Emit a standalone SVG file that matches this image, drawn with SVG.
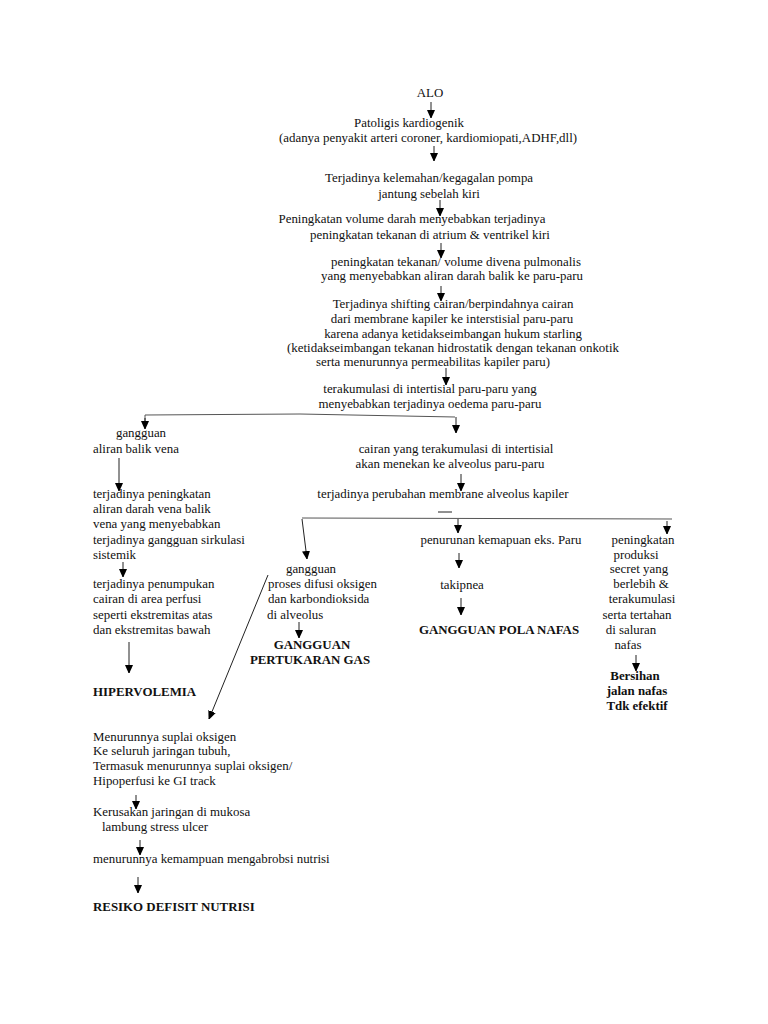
<svg xmlns="http://www.w3.org/2000/svg" width="768" height="1024" viewBox="0 0 768 1024">
<defs>
<marker id="a" markerWidth="8" markerHeight="9" refX="8" refY="4" orient="auto" markerUnits="userSpaceOnUse">
<path d="M0,0 L9,4 L0,8 Z" fill="#000"/>
</marker>
<style>
text{font-family:"Liberation Serif","Times New Roman",serif;font-size:12.9px;fill:#111}
.b{font-weight:bold}
.m{text-anchor:middle}
.c{stroke:#222;stroke-width:1;fill:none}
.ar{marker-end:url(#a)}
.g{stroke:#555}
</style>
</defs>
<rect width="768" height="1024" fill="#fff"/>
<g id="connectors">
<line class="c ar" x1="431" y1="102" x2="431" y2="118"/>
<line class="c ar" x1="434" y1="146" x2="434" y2="161"/>
<line class="c ar" x1="440" y1="200" x2="440" y2="216"/>
<line class="c ar" x1="441" y1="243" x2="441" y2="258"/>
<line class="c ar" x1="441" y1="286" x2="441" y2="301"/>
<line class="c ar" x1="446" y1="368" x2="446" y2="385"/>
<polyline class="c g" points="145,428 145,415 300,414 455,417"/>
<line class="c ar" x1="145" y1="418" x2="145" y2="429"/>
<line class="c ar" x1="456" y1="417" x2="456" y2="433"/>
<line class="c ar" x1="119" y1="458" x2="119" y2="491"/>
<line class="c ar" x1="461" y1="474" x2="461" y2="491"/>
<line class="c" x1="438" y1="512" x2="452" y2="512"/>
<line class="c g" x1="302" y1="518" x2="672" y2="519"/>
<line class="c ar" x1="302" y1="519" x2="307" y2="559"/>
<line class="c ar" x1="458" y1="519" x2="458" y2="533"/>
<line class="c ar" x1="667" y1="521" x2="667" y2="534"/>
<line class="c ar" x1="123" y1="562" x2="123" y2="577"/>
<line class="c ar" x1="129" y1="642" x2="129" y2="673"/>
<line class="c ar" x1="459" y1="553" x2="459" y2="568"/>
<line class="c ar" x1="461" y1="598" x2="461" y2="615"/>
<line class="c ar" x1="299" y1="622" x2="299" y2="638"/>
<line class="c ar" x1="636" y1="655" x2="636" y2="671"/>
<line class="c ar" x1="268" y1="575" x2="209" y2="719"/>
<line class="c ar" x1="136" y1="795" x2="136" y2="809"/>
<line class="c ar" x1="140" y1="840" x2="140" y2="855"/>
<line class="c ar" x1="138" y1="877" x2="138" y2="893"/>
</g>
<g id="n-alo"><text class="m" x="430" y="97">ALO</text></g>
<g id="n-patologis">
<text class="m" x="409" y="127">Patoligis kardiogenik</text>
<text class="m" x="428" y="142">(adanya penyakit arteri coroner, kardiomiopati,ADHF,dll)</text>
</g>
<g id="n-kelemahan">
<text class="m" x="429" y="182">Terjadinya kelemahan/kegagalan pompa</text>
<text class="m" x="429" y="198">jantung sebelah kiri</text>
</g>
<g id="n-volume">
<text class="m" x="412" y="223">Peningkatan volume darah menyebabkan terjadinya</text>
<text class="m" x="430" y="239">peningkatan tekanan di atrium &amp; ventrikel kiri</text>
</g>
<g id="n-pulmonalis">
<text class="m" x="456" y="266">peningkatan tekanan/ volume divena pulmonalis</text>
<text class="m" x="452" y="280">yang menyebabkan aliran darah balik ke paru-paru</text>
</g>
<g id="n-shifting">
<text class="m" x="453" y="308">Terjadinya shifting cairan/berpindahnya cairan</text>
<text class="m" x="452" y="323">dari membrane kapiler ke interstisial paru-paru</text>
<text class="m" x="453" y="338">karena adanya ketidakseimbangan hukum starling</text>
<text class="m" x="453" y="352">(ketidakseimbangan tekanan hidrostatik dengan tekanan onkotik</text>
<text class="m" x="433" y="366">serta menurunnya permeabilitas kapiler paru)</text>
</g>
<g id="n-oedema">
<text class="m" x="430" y="393">terakumulasi di intertisial paru-paru yang</text>
<text class="m" x="430" y="408">menyebabkan terjadinya oedema paru-paru</text>
</g>
<g id="n-aliranbalik">
<text class="m" x="141" y="437">gangguan</text>
<text class="m" x="136" y="453">aliran balik vena</text>
</g>
<g id="n-cairan">
<text class="m" x="456" y="453">cairan yang terakumulasi di intertisial</text>
<text class="m" x="450" y="468">akan menekan ke alveolus paru-paru</text>
</g>
<g id="n-membrane"><text class="m" x="443" y="498">terjadinya perubahan membrane alveolus kapiler</text></g>
<g id="n-sirkulasi">
<text x="93" y="498">terjadinya peningkatan</text>
<text x="93" y="513">aliran darah vena balik</text>
<text x="93" y="528">vena yang menyebabkan</text>
<text x="93" y="544">terjadinya gangguan sirkulasi</text>
<text x="93" y="559">sistemik</text>
</g>
<g id="n-penumpukan">
<text x="93" y="588">terjadinya penumpukan</text>
<text x="93" y="603">cairan di area perfusi</text>
<text x="93" y="619">seperti ekstremitas atas</text>
<text x="93" y="634">dan ekstremitas bawah</text>
</g>
<g id="n-hipervolemia"><text class="b" x="93" y="696">HIPERVOLEMIA</text></g>
<g id="n-difusi">
<text class="m" x="311" y="573">gangguan</text>
<text x="268" y="588">proses difusi oksigen</text>
<text x="268" y="603">dan karbondioksida</text>
<text x="267" y="619">di alveolus</text>
</g>
<g id="n-pertukaran">
<text class="b m" x="312" y="649">GANGGUAN</text>
<text class="b m" x="310" y="664">PERTUKARAN GAS</text>
</g>
<g id="n-ekspansi"><text class="m" x="501" y="544">penurunan kemapuan eks. Paru</text></g>
<g id="n-takipnea"><text class="m" x="462" y="589">takipnea</text></g>
<g id="n-pola"><text class="b m" x="499" y="634">GANGGUAN POLA NAFAS</text></g>
<g id="n-secret">
<text class="m" x="643" y="544">peningkatan</text>
<text class="m" x="636" y="559">produksi</text>
<text class="m" x="639" y="573">secret yang</text>
<text class="m" x="641" y="588">berlebih &amp;</text>
<text class="m" x="642" y="603">terakumulasi</text>
<text class="m" x="637" y="619">serta tertahan</text>
<text class="m" x="631" y="634">di saluran</text>
<text class="m" x="628" y="649">nafas</text>
</g>
<g id="n-bersihan">
<text class="b m" x="635" y="680">Bersihan</text>
<text class="b m" x="637" y="695">jalan nafas</text>
<text class="b m" x="637" y="710">Tdk efektif</text>
</g>
<g id="n-suplai">
<text x="93" y="741">Menurunnya suplai oksigen</text>
<text x="93" y="755">Ke seluruh jaringan tubuh,</text>
<text x="93" y="770">Termasuk menurunnya suplai oksigen/</text>
<text x="93" y="785">Hipoperfusi ke GI track</text>
</g>
<g id="n-mukosa">
<text x="93" y="816">Kerusakan jaringan di mukosa</text>
<text x="102" y="831">lambung stress ulcer</text>
</g>
<g id="n-nutrisi"><text x="93" y="863">menurunnya kemampuan mengabrobsi nutrisi</text></g>
<g id="n-resiko"><text class="b" x="93" y="911">RESIKO DEFISIT NUTRISI</text></g>
</svg>
